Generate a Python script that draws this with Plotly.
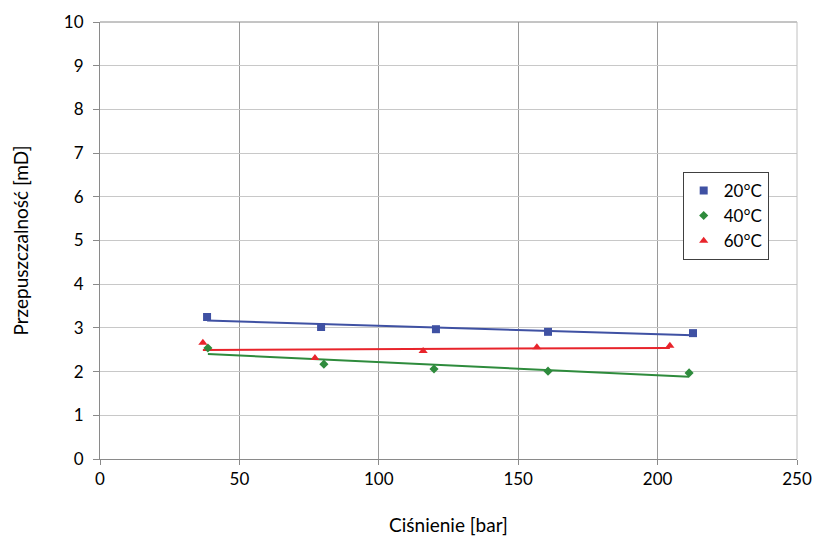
import numpy as np
import plotly.graph_objects as go

# Data
x20 = [38.4, 79.3, 120.5, 160.7, 212.7]
y20 = [3.25, 3.02, 2.97, 2.91, 2.88]
x40 = [38.7, 80.3, 119.8, 160.7, 211.3]
y40 = [2.54, 2.17, 2.06, 2.01, 1.97]
x60 = [36.9, 77.1, 115.9, 156.7, 204.4]
y60 = [2.66, 2.31, 2.47, 2.56, 2.59]
names = ["20°C", "40°C", "60°C"]
colors = ["#3f51a3", "#2e8b3c", "#e8242b"]
symbols = ["square", "diamond", "triangle-up"]
sizes = [8, 7, 8]

FONT = "Lato"
fig = go.Figure()
for xs, ys, nm, c, s, sz in zip([x20, x40, x60], [y20, y40, y60], names, colors, symbols, sizes):
    a, b = np.polyfit(xs, ys, 1)
    xl = np.array([min(xs), max(xs)])
    fig.add_trace(go.Scatter(x=xl, y=a * xl + b, mode="lines",
                             line=dict(color=c, width=2), showlegend=False, hoverinfo="skip"))
for xs, ys, nm, c, s, sz in zip([x20, x40, x60], [y20, y40, y60], names, colors, symbols, sizes):
    fig.add_trace(go.Scatter(x=xs, y=ys, mode="markers", name=nm,
                             marker=dict(color=c, symbol=s, size=sz)))

fig.update_layout(
    width=814, height=536,
    margin=dict(l=100, r=17, t=22, b=77),
    paper_bgcolor="white", plot_bgcolor="white",
    font=dict(family=FONT, size=17, color="black"),
    legend=dict(x=0.836, y=0.657, xanchor="left", yanchor="top",
                bordercolor="#404040", borderwidth=1, bgcolor="white",
                font=dict(size=17), itemwidth=30, tracegroupgap=0),
)
fig.update_xaxes(range=[0, 250], dtick=50, tick0=0, automargin=False,
                 showgrid=True, gridcolor="#9a9a9a", gridwidth=1,
                 showline=True, linecolor="#8a8a8a", linewidth=1, mirror=False,
                 ticks="outside", ticklen=5, tickcolor="#8a8a8a",
                 zeroline=False,
                 title=dict(text="Ciśnienie [bar]", font=dict(size=19), standoff=31))
fig.update_yaxes(range=[0, 10], dtick=1, tick0=0, automargin=False,
                 showgrid=True, gridcolor="#c8c8c8", gridwidth=1,
                 showline=True, linecolor="#8a8a8a", linewidth=1,
                 ticks="outside", ticklen=6, tickcolor="#8a8a8a",
                 zeroline=False, ticklabelstandoff=6,
                 title=dict(text="Przepuszczalność [mD]", font=dict(size=19), standoff=30))
# top border line & right
fig.add_shape(type="line", xref="paper", yref="paper", x0=0, x1=1, y0=1, y1=1,
              line=dict(color="#8a8a8a", width=1))
fig.add_shape(type="line", xref="paper", yref="paper", x0=1, x1=1, y0=0, y1=1,
              line=dict(color="#c0c0c0", width=1))
fig.write_html(
    "out.html",
    config={"displayModeBar": False},
    post_script="document.body.style.margin='0';document.body.style.overflow='hidden';"
                "document.documentElement.style.overflow='hidden';",
)
